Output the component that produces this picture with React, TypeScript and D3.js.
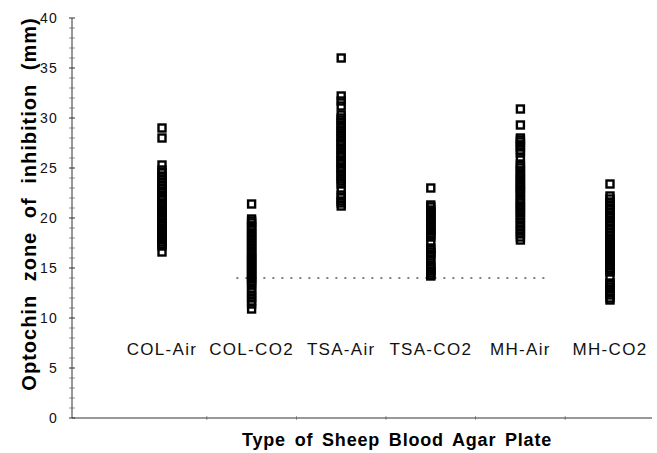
import React from "react";
import { scaleLinear, range } from "d3";

const width = 657;
const height = 453;

// plate types along the x axis
const categories = ["COL-Air", "COL-CO2", "TSA-Air", "TSA-CO2", "MH-Air", "MH-CO2"];

// zone diameters (mm), one array per plate type
const colAir = [29.0, 28.0, 25.3, 24.8, 24.5, 24.2, 23.9, 23.6, 23.3, 23.0, 22.7, 22.5, 22.2, 22.0, 21.8, 21.5, 21.3, 21.1, 20.9, 20.7, 20.5, 20.3, 20.1, 19.9, 19.6, 19.4, 19.2, 19.0, 18.8, 18.6, 18.4, 18.2, 18.0, 17.8, 17.6, 17.4, 17.2, 16.6];
const colCO2 = [21.4, 19.9, 19.7, 19.5, 19.2, 19.0, 18.8, 18.5, 18.3, 18.1, 17.9, 17.6, 17.4, 17.2, 17.0, 16.7, 16.5, 16.3, 16.1, 15.9, 15.7, 15.5, 15.3, 15.1, 14.9, 14.7, 14.5, 14.3, 14.1, 13.9, 13.7, 13.5, 13.3, 12.9, 12.6, 12.3, 12.0, 11.7, 11.4, 10.9];
const tsaAir = [36.0, 32.2, 31.7, 31.2, 30.3, 30.0, 29.8, 29.5, 29.2, 29.0, 28.7, 28.5, 28.2, 28.0, 27.7, 27.5, 27.3, 27.0, 26.8, 26.5, 26.3, 26.1, 25.8, 25.6, 25.4, 25.1, 24.9, 24.7, 24.4, 24.2, 23.9, 23.7, 23.4, 22.8, 22.3, 22.0, 21.7, 21.5, 21.2];
const tsaCO2 = [23.0, 21.3, 21.1, 20.8, 20.6, 20.4, 20.2, 20.0, 19.8, 19.6, 19.3, 19.1, 18.9, 18.7, 18.5, 18.3, 18.1, 17.6, 17.0, 16.8, 16.6, 16.4, 16.2, 15.8, 15.3, 15.1, 14.9, 14.7, 14.5, 14.3, 14.2];
const mhAir = [30.9, 29.3, 28.0, 27.8, 27.6, 27.3, 27.1, 26.8, 26.5, 26.0, 25.4, 25.2, 25.0, 24.7, 24.4, 24.2, 24.0, 23.8, 23.5, 23.3, 23.1, 22.9, 22.7, 22.5, 22.2, 21.9, 21.7, 21.5, 21.2, 21.0, 20.8, 20.6, 20.3, 20.0, 19.8, 19.5, 19.2, 18.9, 18.7, 18.4, 18.1, 17.8];
const mhCO2 = [23.4, 22.2, 21.9, 21.6, 21.3, 21.0, 20.8, 20.5, 20.2, 20.0, 19.7, 19.5, 19.2, 18.9, 18.6, 18.3, 18.0, 17.8, 17.6, 17.4, 17.2, 17.0, 16.8, 16.6, 16.4, 16.2, 16.0, 15.8, 15.6, 15.4, 15.2, 15.0, 14.8, 14.6, 14.1, 13.5, 13.3, 13.1, 12.9, 12.6, 12.3, 12.0, 11.8];

const series = [colAir, colCO2, tsaAir, tsaCO2, mhAir, mhCO2];

// y axis labels and the 14 mm cut-off line
const yTickLabels = [0, 5, 10, 15, 20, 25, 30, 35, 40];
const cutoff = 14;
const cutoffFrom = 0.83; // in category-index units
const cutoffTo = 4.31;

const margin = { top: 18, left: 72, bottom: 35, right: 5 };

const App = () => {
  const y = scaleLinear().domain([0, 40]).range([height - margin.bottom, margin.top]);
  // categories are evenly spaced; index -> pixel
  const x = scaleLinear().domain([0, categories.length - 1]).range([162, 610]);

  const box = 7;
  const font = "'Liberation Sans', Arial, Helvetica, sans-serif";
  const axisColor = "#333";

  return (
    <svg
      width={width}
      height={height}
      style={{ position: "absolute", left: 0, top: 0, background: "#fff" }}
      fontFamily={font}
    >
      {/* y axis */}
      <line x1={margin.left} x2={margin.left} y1={y(40)} y2={y(0)} stroke={axisColor} strokeWidth={1} />
      {range(0, 41).map((v) => (
        <line
          key={"yt" + v}
          x1={margin.left - 3}
          x2={margin.left + 3}
          y1={y(v)}
          y2={y(v)}
          stroke={axisColor}
          strokeWidth={v % 5 === 0 ? 1 : 0.7}
          opacity={v % 5 === 0 ? 1 : 0.7}
        />
      ))}
      {yTickLabels.map((v) => (
        <text
          key={"yl" + v}
          x={58}
          y={y(v)}
          dy="0.36em"
          textAnchor="end"
          fontSize={14}
          letterSpacing={1.2}
          fill="#111"
        >
          {v}
        </text>
      ))}

      {/* x axis */}
      <line x1={margin.left} x2={652} y1={y(0)} y2={y(0)} stroke={axisColor} strokeWidth={1} />
      {range(0, categories.length - 1).map((i) => (
        <line
          key={"xt" + i}
          x1={x(i + 0.5)}
          x2={x(i + 0.5)}
          y1={y(0) - 2}
          y2={y(0) + 2}
          stroke={axisColor}
          strokeWidth={0.7}
          opacity={0.7}
        />
      ))}
      {categories.map((c, i) => (
        <text
          key={c}
          x={x(i)}
          y={355}
          textAnchor="middle"
          fontSize={17}
          letterSpacing={1.3}
          fill="#111"
        >
          {c}
        </text>
      ))}

      {/* cut-off dotted line */}
      <line
        x1={x(cutoffFrom)}
        x2={x(cutoffTo)}
        y1={y(cutoff)}
        y2={y(cutoff)}
        stroke="#555"
        strokeWidth={1.3}
        strokeDasharray="2 7"
      />

      {/* data squares */}
      {series.map((vals, i) => (
        <g key={"s" + i}>
          {vals.map((v, j) => (
            <rect
              key={j}
              x={x(i) - box / 2}
              y={y(v) - box / 2}
              width={box}
              height={box}
              fill="none"
              stroke="#000"
              strokeWidth={2.4}
            />
          ))}
        </g>
      ))}

      {/* axis titles */}
      <text
        transform={`translate(36,${204}) rotate(-90)`}
        textAnchor="middle"
        fontSize={20}
        fontWeight="bold"
        letterSpacing={1}
        wordSpacing={7}
        fill="#000"
      >
        Optochin zone of inhibition (mm)
      </text>
      <text
        x={397}
        y={446}
        textAnchor="middle"
        fontSize={18}
        fontWeight="bold"
        letterSpacing={0.8}
        wordSpacing={3}
        fill="#000"
      >
        Type of Sheep Blood Agar Plate
      </text>
    </svg>
  );
};

export default App;
